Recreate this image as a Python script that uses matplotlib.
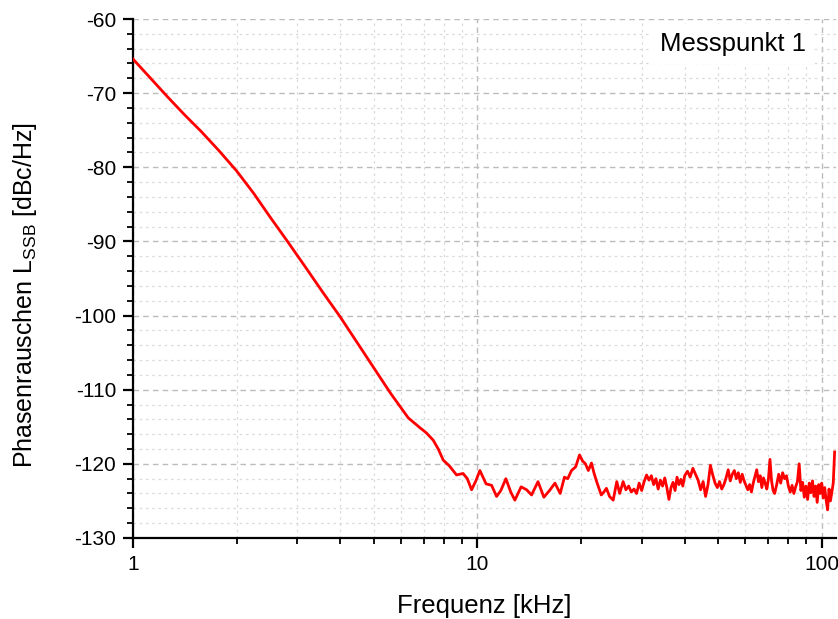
import matplotlib
matplotlib.use("Agg")
import matplotlib.pyplot as plt
from matplotlib.ticker import FixedLocator, FixedFormatter, MultipleLocator, NullFormatter

# Phase noise measurement, frequency offset in kHz, L_SSB in dBc/Hz
freq_khz = [
    1.0, 1.12, 1.26, 1.41, 1.58, 1.78, 2.0, 2.24, 2.5, 2.8, 3.15, 3.55, 4.0,
    4.5, 5.0, 5.6, 6.3, 6.8, 7.1, 7.44, 7.7, 7.96, 8.3, 8.7, 9.09, 9.35, 9.62,
    9.9, 10.17, 10.6, 11.0, 11.37, 11.7, 12.1, 12.5, 12.85, 13.4, 13.9, 14.37,
    15.0, 15.6, 16.2, 16.8, 17.4, 17.9, 18.3, 18.77, 19.3, 19.8, 20.2, 20.6,
    21.0, 21.45, 21.8, 22.2, 22.9, 23.3, 23.7, 24.2, 24.8, 25.4, 25.9, 26.5,
    27.0, 27.5, 28.0, 28.5, 29.0, 29.5, 30.0, 30.5, 31.0, 31.5, 32.0, 32.5,
    33.0, 33.5, 34.0, 34.5, 35.0, 35.5, 36.0, 36.5, 37.0, 37.5, 38.0, 38.5,
    39.0, 39.5, 40.0, 40.75, 41.5, 42.25, 43.0, 43.75, 44.5, 45.25, 46.0,
    46.75, 47.5, 48.25, 49.0, 49.75, 50.5, 51.25, 52.0, 52.75, 53.5, 54.25,
    55.0, 55.75, 56.5, 57.25, 58.0, 58.75, 59.5, 60.25, 61.0, 61.75, 62.5,
    63.25, 64.0, 64.75, 65.5, 66.25, 67.0, 67.75, 68.5, 69.25, 70.0, 70.75,
    71.5, 72.25, 73.0, 74.0, 75.0, 76.0, 77.0, 78.0, 79.0, 80.0, 81.0, 82.0,
    83.0, 84.0, 85.0, 86.0, 87.0, 88.0, 89.0, 90.0, 91.0, 92.0, 93.0, 94.0,
    95.0, 96.0, 97.0, 98.0, 99.0, 100.0, 101.0, 102.0, 103.0, 104.0, 105.0,
    106.0, 107.0, 108.0, 109.0,
]
noise_dbc = [
    -65.4, -67.9, -70.5, -72.9, -75.2, -77.8, -80.5, -83.5, -86.7, -89.9,
    -93.3, -96.8, -100.2, -103.8, -107.0, -110.5, -113.8, -115.1, -115.8,
    -116.8, -118.0, -119.5, -120.3, -121.5, -121.3, -122.0, -123.5, -122.3,
    -120.9, -122.7, -122.9, -124.4, -123.6, -122.0, -123.8, -124.9, -123.1,
    -123.5, -124.2, -122.4, -124.5, -123.6, -122.6, -124.0, -121.8, -122.0,
    -120.9, -120.4, -118.8, -119.6, -120.0, -120.9, -119.9, -121.2, -122.4,
    -124.2, -123.8, -123.3, -124.4, -124.9, -122.4, -124.0, -122.4,
    -123.5, -123.0, -123.8, -123.4, -124.0, -122.6, -123.6, -122.4, -121.5,
    -122.2, -121.6, -122.8, -122.0, -123.4, -122.2, -123.0, -121.9, -123.2,
    -124.8, -123.2, -122.5, -123.6, -121.8, -122.8, -122.1, -123.0, -121.6,
    -121.0, -121.8, -120.6, -121.4, -122.2, -123.5, -122.4, -124.4, -122.8,
    -120.2, -121.5, -122.6, -123.2, -122.4, -123.4, -122.8, -121.9, -120.8,
    -122.3, -121.4, -120.9, -122.0, -121.2, -122.5, -121.4, -122.3, -122.9,
    -123.5, -122.8, -123.8, -122.6, -121.7, -120.8, -122.4, -121.6, -123.2,
    -121.9, -122.6, -123.4, -122.1, -119.4, -122.3, -123.6, -124.0, -122.8,
    -121.4, -122.6, -121.2, -122.0, -121.6, -123.0, -123.8, -122.9, -124.0,
    -123.1, -122.4, -120.0, -123.6, -122.5, -124.5, -123.0, -124.8, -122.6,
    -123.9, -122.3, -124.4, -123.0, -125.2, -122.8, -124.0, -122.6, -124.6,
    -123.2, -124.9, -126.2, -123.4, -125.0, -123.8, -122.6, -118.4,
]

x_major = [1, 10, 100]
x_major_labels = ["1", "10", "100"]
x_minor = [m * d for d in (1, 10, 100) for m in range(2, 10) if m * d < 110]

plt.rcParams["font.family"] = ["Liberation Sans", "DejaVu Sans"]
plt.rcParams["axes.unicode_minus"] = False

fig = plt.figure(figsize=(8.38, 6.19), dpi=100)
ax = fig.add_axes([0.1587, 0.1309, 0.8389, 0.8384])

ax.plot(freq_khz, noise_dbc, color="#ff0000", linewidth=2.0, zorder=3)

ax.set_xscale("log")
ax.set_xlim(1, 110)
ax.set_ylim(-130, -60)

ax.xaxis.set_major_locator(FixedLocator(x_major))
ax.xaxis.set_major_formatter(FixedFormatter(x_major_labels))
ax.xaxis.set_minor_locator(FixedLocator(x_minor))
ax.xaxis.set_minor_formatter(NullFormatter())
ax.yaxis.set_major_locator(MultipleLocator(10))
ax.yaxis.set_minor_locator(MultipleLocator(2))

ax.grid(which="major", color="#bcbcbc", linestyle=(0, (4, 3)), linewidth=1.0)
ax.grid(which="minor", color="#dadada", linestyle=(0, (2, 3)), linewidth=0.9)
ax.set_axisbelow(True)

for side in ("top", "right"):
    ax.spines[side].set_visible(False)
for side in ("left", "bottom"):
    ax.spines[side].set_linewidth(1.6)

ax.tick_params(which="major", direction="out", length=7, width=1.6, labelsize=15, pad=5)
ax.tick_params(which="minor", direction="out", length=4, width=1.3)

ax.set_xlabel("Frequenz [kHz]", fontsize=18.5, labelpad=15)
ax.set_ylabel("Phasenrauschen L$_\\mathregular{SSB}$ [dBc/Hz]", fontsize=18)
ax.yaxis.set_label_coords(-0.134, 0.468)

ax.text(0.957, 0.975, "Messpunkt 1", transform=ax.transAxes, ha="right", va="top",
        fontsize=18.5, bbox=dict(facecolor="white", edgecolor="none", pad=6), zorder=4)

fig.savefig("out.png", dpi=100)
